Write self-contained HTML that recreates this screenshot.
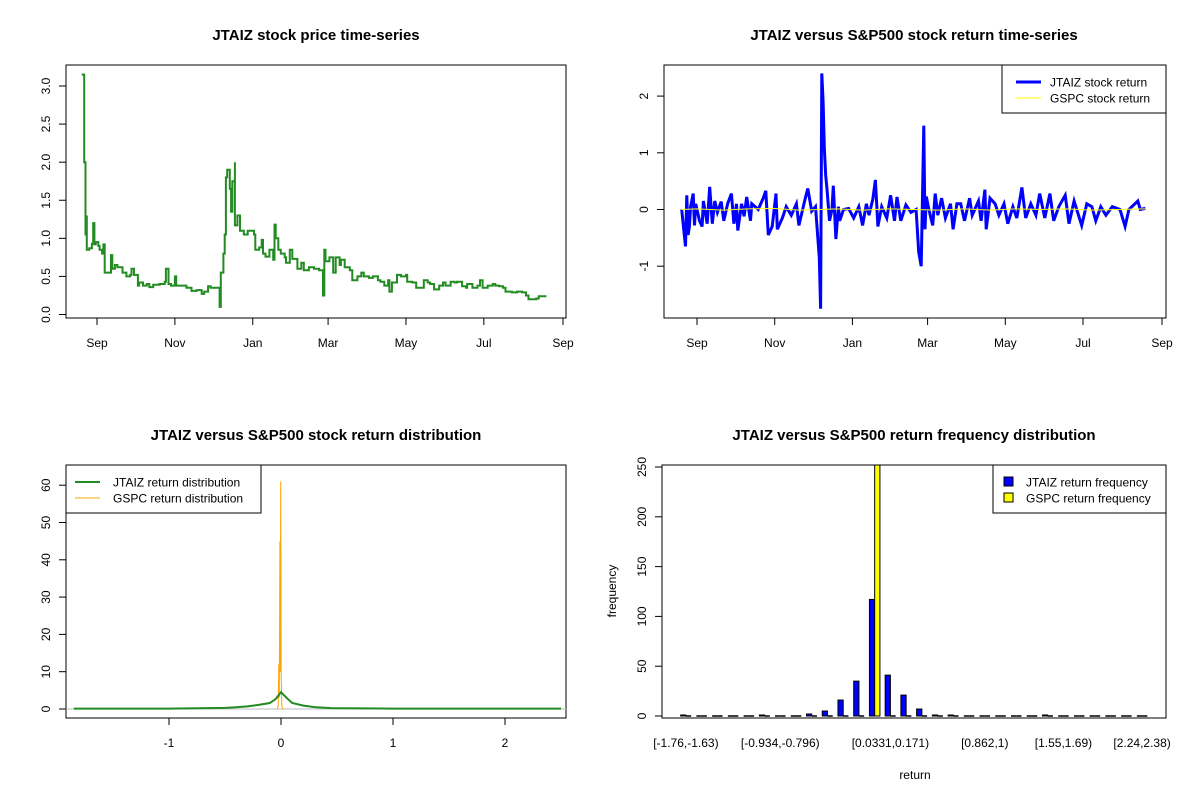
<!DOCTYPE html>
<html><head><meta charset="utf-8">
<style>
html,body{margin:0;padding:0;background:#fff;}
svg{display:block;font-family:"Liberation Sans",Arial,sans-serif;}
</style></head>
<body>
<svg id="chart" width="1200" height="800" viewBox="0 0 1200 800" xmlns="http://www.w3.org/2000/svg"></svg>
<script>
// ---------- DATA ----------
const priceDays = [-12,-10,-10,-9,-8,-8,-6,-4,-3,-2,-1,1,2,4,5,6,10,11,12,14,16,19,20,23,26,27,29,32,33,36,39,41,44,49,53,54,56,58,61,62,66,70,74,78,80,82,84,87,89,95,96,97,99,100,101,102,104,105,106,108,108,110,112,115,118,123,124,127,129,130,132,135,138,139,140,142,144,147,148,151,153,156,157,160,162,166,170,174,177,178,179,182,185,187,190,191,194,198,200,204,207,209,213,216,220,222,225,228,229,231,234,235,238,242,243,247,250,254,256,259,261,264,268,271,273,277,280,282,286,289,290,294,298,300,302,306,310,312,315,318,320,325,329,333,336,338,344,346,352];
const priceVals = [3.15,2.6,2.0,1.05,1.3,0.85,0.87,0.93,1.2,0.92,0.95,0.9,0.85,0.8,0.92,0.55,0.55,0.78,0.6,0.65,0.62,0.62,0.55,0.5,0.52,0.6,0.52,0.38,0.42,0.38,0.4,0.36,0.39,0.4,0.43,0.6,0.4,0.38,0.5,0.38,0.38,0.35,0.31,0.32,0.32,0.27,0.3,0.37,0.35,0.35,0.1,0.55,0.8,1.05,1.8,1.9,1.65,1.35,1.75,2.0,1.17,1.3,1.1,1.05,1.1,1.05,0.85,0.88,0.98,0.8,0.76,0.85,0.72,1.18,1.0,0.85,0.8,0.75,0.68,0.85,0.73,0.73,0.6,0.68,0.58,0.62,0.6,0.58,0.25,0.85,0.7,0.75,0.55,0.75,0.65,0.72,0.62,0.58,0.45,0.5,0.55,0.5,0.48,0.5,0.45,0.43,0.38,0.45,0.3,0.42,0.42,0.52,0.5,0.52,0.43,0.42,0.35,0.35,0.45,0.42,0.4,0.33,0.38,0.42,0.38,0.43,0.42,0.43,0.37,0.35,0.4,0.35,0.38,0.45,0.35,0.38,0.4,0.38,0.37,0.35,0.3,0.29,0.3,0.29,0.25,0.2,0.21,0.24,0.24];
const priceTicks = [0,0.5,1,1.5,2,2.5,3];
const priceTickLabels = ["0.0","0.5","1.0","1.5","2.0","2.5","3.0"];
const monthDays = [0,61,122,181,242,303,365];
const monthLabels = ["Sep","Nov","Jan","Mar","May","Jul","Sep"];

const retDays = [-12,-10,-9,-8,-7,-6,-5,-3,-2,-1,2,4,5,8,10,12,14,16,19,21,24,27,29,31,32,35,37,39,42,43,48,52,54,56,59,62,63,67,70,74,78,80,85,87,90,93,96,97,98,99,100,101,102,104,106,107,109,111,112,115,119,123,127,130,133,135,138,140,142,145,149,152,155,157,160,164,168,172,174,176,178,179,180,182,185,187,189,192,195,199,201,204,207,210,214,216,221,223,226,227,230,234,237,241,244,248,251,255,258,262,266,269,273,277,280,284,289,292,296,302,306,310,313,317,321,326,332,336,339,346,348,352];
const retVals = [0.0,-0.45,-0.65,0.25,-0.45,-0.3,0.05,0.28,-0.28,0.1,-0.2,-0.3,0.15,-0.25,0.4,-0.25,0.15,-0.05,0.14,-0.2,0.1,0.28,-0.25,0.1,-0.37,0.1,-0.12,0.22,-0.2,0.1,0.0,0.2,0.33,-0.45,-0.3,0.28,-0.35,-0.15,0.05,-0.1,0.1,-0.28,0.2,0.37,-0.03,0.05,-0.85,-1.75,2.4,1.9,1.05,0.6,0.38,-0.2,0.0,0.42,-0.52,0.05,-0.2,0.0,0.02,-0.15,0.05,-0.28,0.1,-0.1,0.18,0.52,-0.3,0.05,-0.15,0.25,-0.2,0.22,-0.2,0.08,-0.05,0.0,-0.75,-1.0,1.48,-0.35,0.23,0.0,-0.28,0.28,-0.1,0.2,-0.15,0.1,-0.35,0.1,0.1,-0.2,0.2,-0.1,0.15,-0.2,0.35,-0.35,0.2,0.1,-0.1,0.1,-0.25,0.05,-0.15,0.39,-0.15,0.1,-0.1,0.28,-0.15,0.28,-0.2,0.05,0.25,-0.25,0.15,-0.28,0.1,0.05,-0.2,0.05,-0.1,0.05,0.0,-0.3,0.0,0.15,0.0,0.02];
const gspcDays = [-12,0,20,40,60,80,97,110,130,150,170,190,210,230,250,270,290,310,330,352];
const gspcVals = [0.0,0.01,-0.01,0.01,0.02,-0.01,0.0,0.01,-0.01,0.01,0.0,-0.01,0.01,-0.01,0.01,0.0,0.01,-0.01,0.0,0.01];
const retTicks = [-1,0,1,2];

const jDensX = [-1.85,-1.0,-0.5,-0.4,-0.3,-0.2,-0.1,-0.05,0,0.05,0.1,0.2,0.3,0.45,1.0,2.5];
const jDensY = [0.1,0.1,0.3,0.45,0.7,1.1,1.6,2.6,4.5,3.0,1.6,0.9,0.5,0.25,0.1,0.1];
const gDensX = [-0.035,-0.025,-0.02,-0.015,-0.01,-0.006,-0.003,0.0,0.002,0.004,0.007,0.01,0.015,0.02,0.03];
const gDensY = [0,1,12,3,45,10,61,38,8,7,1,0.5,0.2,0,0];
const densXTicks = [-1,0,1,2];
const densYTicks = [0,10,20,30,40,50,60];

const binLabels = ["[-1.76,-1.63)","[-0.934,-0.796)","[0.0331,0.171)","[0.862,1)","[1.55,1.69)","[2.24,2.38)"];
const binLabelIdx = [0,6,13,19,24,29];
const jFreq = [1,0,0,0,0,1,0,0,2,5,16,35,117,41,21,7,1,1,0,0,0,0,0,1,0,0,0,0,0,0];
const gFreq = [0,0,0,0,0,0,0,0,0,0,0,0,252,0,0,0,0,0,0,0,0,0,0,0,0,0,0,0,0,0];
const freqTicks = [0,50,100,150,200,250];

// ---------- DRAW ----------
const svg = document.getElementById('chart');
const NS = 'http://www.w3.org/2000/svg';
function mk(tag, attrs, parent){
  const e = document.createElementNS(NS, tag);
  for (const k in attrs) e.setAttribute(k, attrs[k]);
  (parent||svg).appendChild(e);
  return e;
}
function txt(s, x, y, size, opts){
  const t = mk('text', {x:x, y:y, 'font-size':size, 'text-anchor':(opts&&opts.anchor)||'middle', fill:'#000'});
  if (opts && opts.bold) t.setAttribute('font-weight','bold');
  if (opts && opts.rot) t.setAttribute('transform','rotate(-90 '+x+' '+y+')');
  t.textContent = s;
  return t;
}
function box(x0,y0,x1,y1){
  return mk('rect',{x:x0,y:y0,width:x1-x0,height:y1-y0,fill:'none',stroke:'#000','stroke-width':1});
}
function stepPath(xs, ys){
  let d = 'M'+xs[0].toFixed(1)+','+ys[0].toFixed(1);
  for (let i=1;i<xs.length;i++){ d += ' L'+xs[i].toFixed(1)+','+ys[i-1].toFixed(1)+' L'+xs[i].toFixed(1)+','+ys[i].toFixed(1); }
  return d;
}
function linePath(xs, ys){
  let d='';
  for (let i=0;i<xs.length;i++) d += (i?' L':'M')+xs[i].toFixed(1)+','+ys[i].toFixed(1);
  return d;
}

// Panel 1
(function(){
  const X = d => 97 + d*(466/365);
  const Y = v => 314.5 - v*(228.5/3);
  const t = txt('JTAIZ stock price time-series', 316, 40, 15, {bold:true});
  
  
  const b = box(66,65,566,318);
  
  
  priceTicks.forEach((v,i)=>{
    const l = mk('line',{x1:59,x2:66,y1:Y(v),y2:Y(v),stroke:'#000'});
    
    
    const lb = txt(priceTickLabels[i], 50, Y(v), 12, {rot:true});
    
    
  });
  monthDays.forEach((d,i)=>{
    const l = mk('line',{x1:X(d),x2:X(d),y1:318,y2:325,stroke:'#000'});
    
    
    const lb = txt(monthLabels[i], X(d), 347, 12);
    
    
  });
  const p = mk('path',{d:stepPath(priceDays.map(X), priceVals.map(Y)), fill:'none', stroke:'#228b22','stroke-width':2});
  
  
})();

// Panel 2
(function(){
  const X = d => 697 + d*(465/365);
  const Y = v => 209.5 - v*56.7;
  const t = txt('JTAIZ versus S&P500 stock return time-series', 914, 40, 15, {bold:true});
  
  
  const b = box(664,65,1166,318);
  
  
  retTicks.forEach(v=>{
    const l = mk('line',{x1:657,x2:664,y1:Y(v),y2:Y(v),stroke:'#000'});
    
    
    const lb = txt(String(v), 648, Y(v), 12, {rot:true});
    
    
  });
  monthDays.forEach((d,i)=>{
    const l = mk('line',{x1:X(d),x2:X(d),y1:318,y2:325,stroke:'#000'});
    
    
    const lb = txt(monthLabels[i], X(d), 347, 12);
    
    
  });
  const p = mk('path',{d:linePath(retDays.map(X), retVals.map(Y)), fill:'none', stroke:'#0000ff','stroke-width':3});
  
  
  const g = mk('path',{d:linePath(gspcDays.map(X), gspcVals.map(Y)), fill:'none', stroke:'#ffff00','stroke-width':1});
  
  
  const lg = mk('g',{});
  
  
  mk('rect',{x:1002,y:65,width:164,height:48,fill:'#fff',stroke:'#000'},lg);
  mk('line',{x1:1016,x2:1041,y1:82,y2:82,stroke:'#0000ff','stroke-width':3},lg);
  mk('line',{x1:1016,x2:1041,y1:98,y2:98,stroke:'#ffff00','stroke-width':1},lg);
  lg.appendChild(txt('JTAIZ stock return',1050,86.5,12,{anchor:'start'}));
  lg.appendChild(txt('GSPC stock return',1050,102.5,12,{anchor:'start'}));
})();

// Panel 3
(function(){
  const X = v => 281 + v*112;
  const Y = v => 709 - v*3.73;
  const t = txt('JTAIZ versus S&P500 stock return distribution', 316, 440, 15, {bold:true});
  
  
  const b = box(66,465,566,718);
  
  
  densYTicks.forEach(v=>{
    const l = mk('line',{x1:59,x2:66,y1:Y(v),y2:Y(v),stroke:'#000'});
    
    
    const lb = txt(String(v), 50, Y(v), 12, {rot:true});
    
    
  });
  densXTicks.forEach(v=>{
    const l = mk('line',{x1:X(v),x2:X(v),y1:718,y2:725,stroke:'#000'});
    
    
    const lb = txt(String(v), X(v), 747, 12);
    
    
  });
  const base = mk('line',{x1:66,x2:566,y1:Y(0),y2:Y(0),stroke:'#bebebe'});
  
  
  const g = mk('path',{d:linePath(gDensX.map(X), gDensY.map(Y)), fill:'none', stroke:'#ffa500','stroke-width':1});
  
  
  const p = mk('path',{d:linePath(jDensX.map(X), jDensY.map(Y)), fill:'none', stroke:'#228b22','stroke-width':2});
  
  
  const lg = mk('g',{});
  
  
  mk('rect',{x:66,y:465,width:195,height:48,fill:'#fff',stroke:'#000'},lg);
  mk('line',{x1:75,x2:100,y1:482,y2:482,stroke:'#228b22','stroke-width':2},lg);
  mk('line',{x1:75,x2:100,y1:498,y2:498,stroke:'#ffa500','stroke-width':1},lg);
  lg.appendChild(txt('JTAIZ return distribution',113,486.5,12,{anchor:'start'}));
  lg.appendChild(txt('GSPC return distribution',113,502.5,12,{anchor:'start'}));
})();

// Panel 4
(function(){
  const U = u => 662 + (u+2.56)*504/96.12;
  const Y = v => 716 - v*0.996;
  const t = txt('JTAIZ versus S&P500 return frequency distribution', 914, 440, 15, {bold:true});
  
  
  freqTicks.forEach(v=>{
    const l = mk('line',{x1:655,x2:662,y1:Y(v),y2:Y(v),stroke:'#000'});
    
    
    const lb = txt(String(v), 646, Y(v), 12, {rot:true});
    
    
  });
  const clip = mk('clipPath',{id:'c4'});
  mk('rect',{x:662,y:465,width:504,height:253},clip);
  const bars = mk('g',{'clip-path':'url(#c4)'});
  function bar(x0,x1,v,fill,name){
    if (v > 0) {
      const r = mk('rect',{x:x0,y:Y(v),width:x1-x0,height:Y(0)-Y(v),fill:fill,stroke:'#000','stroke-width':1},bars);
      
      
    } else {
      const l = mk('line',{x1:x0,x2:x1,y1:Y(0),y2:Y(0),stroke:'#000','stroke-width':1.5},bars);
      
      
    }
  }
  jFreq.forEach((v,k)=>{ bar(U(1+3*k), U(2+3*k), v, '#0000ff', 'jtaiz-frequency-bar'); });
  gFreq.forEach((v,k)=>{ bar(U(2+3*k), U(3+3*k), v, '#ffff00', 'gspc-frequency-bar'); });
  binLabelIdx.forEach((k,i)=>{
    const lb = txt(binLabels[i], U(2+3*k), 747, 12);
    
    
  });
  const b = box(662,465,1166,718);
  
  
  const xt = txt('return', 915, 779, 12);
  
  
  const yt = txt('frequency', 616, 591, 12, {rot:true});
  
  
  const lg = mk('g',{});
  
  
  mk('rect',{x:993,y:465,width:173,height:48,fill:'#fff',stroke:'#000'},lg);
  mk('rect',{x:1004,y:477,width:9,height:9,fill:'#0000ff',stroke:'#000'},lg);
  mk('rect',{x:1004,y:493,width:9,height:9,fill:'#ffff00',stroke:'#000'},lg);
  lg.appendChild(txt('JTAIZ return frequency',1026,486.5,12,{anchor:'start'}));
  lg.appendChild(txt('GSPC return frequency',1026,502.5,12,{anchor:'start'}));
})();
</script>
</body></html>
